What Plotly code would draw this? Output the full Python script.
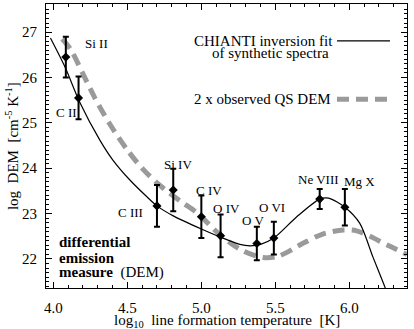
import plotly.graph_objects as go

# Ion line data points (log T, log DEM, error)
ions = ["Si II", "C II", "C III", "Si IV", "C IV", "O IV", "O V", "O VI", "Ne VIII", "Mg X"]
ion_logT = [4.084, 4.17, 4.70, 4.81, 5.00, 5.13, 5.375, 5.49, 5.80, 5.97]
ion_dem = [26.45, 25.55, 23.17, 23.52, 22.93, 22.51, 22.34, 22.46, 23.32, 23.14]
ion_err = [0.45, 0.47, 0.46, 0.47, 0.47, 0.47, 0.37, 0.36, 0.22, 0.40]
# label positions (log T, log DEM) for ion names
label_logT = [4.29, 4.09, 4.52, 4.84, 5.05, 5.17, 5.35, 5.48, 5.79, 6.07]
label_dem = [26.75, 25.23, 23.03, 24.08, 23.51, 23.11, 22.84, 23.14, 23.75, 23.71]

# CHIANTI inversion fit (solid curve)
fit_logT = [3.98, 4.08, 4.179, 4.314, 4.402, 4.517, 4.632, 4.70, 4.81, 5.0, 5.13, 5.26,
            5.33, 5.40, 5.49, 5.645, 5.80, 5.86, 5.97, 6.07, 6.16, 6.23, 6.25]
fit_dem = [26.87, 26.22, 25.45, 24.62, 24.18, 23.74, 23.37, 23.17, 22.95, 22.66, 22.48,
           22.32, 22.29, 22.32, 22.46, 22.93, 23.32, 23.34, 23.14, 22.79, 22.04, 21.47, 21.30]

# 2 x observed QS DEM (dashed grey curve)
qs_logT = [4.06, 4.12, 4.20, 4.28, 4.38, 4.50, 4.605, 4.72, 4.855, 4.97, 5.13, 5.28,
           5.42, 5.52, 5.69, 5.82, 5.96, 6.05, 6.14, 6.26, 6.39]
qs_dem = [26.85, 26.60, 26.08, 25.55, 24.98, 24.40, 23.98, 23.62, 23.28, 23.02, 22.52,
          22.18, 22.03, 22.06, 22.35, 22.55, 22.64, 22.62, 22.50, 22.30, 22.10]

FONT = "Liberation Serif"

fig = go.Figure()
fig.add_trace(go.Scatter(x=qs_logT, y=qs_dem, mode="lines", line_shape="spline",
                         line=dict(color="#9a9a9a", width=5, dash="12px,7px", smoothing=0.8),
                         showlegend=False))
fig.add_trace(go.Scatter(x=fit_logT, y=fit_dem, mode="lines", line_shape="spline",
                         line=dict(color="black", width=1.2, smoothing=0.8), showlegend=False))
fig.add_trace(go.Scatter(x=ion_logT, y=ion_dem, mode="markers",
                         marker=dict(symbol="diamond", size=7, color="black"),
                         error_y=dict(type="data", array=ion_err, color="black",
                                      thickness=2, width=3),
                         showlegend=False))

for name, lx, ly in zip(ions, label_logT, label_dem):
    fig.add_annotation(x=lx, y=ly, text=name, showarrow=False,
                       font=dict(family=FONT, size=13, color="black"))

# Legend (text on left, line sample on right)
fig.add_annotation(xref="paper", yref="paper", x=0.80, y=0.870, xanchor="right",
                   yanchor="middle", text="CHIANTI inversion fit", showarrow=False,
                   font=dict(family=FONT, size=15, color="black"))
fig.add_annotation(xref="paper", yref="paper", x=0.789, y=0.828, xanchor="right",
                   yanchor="middle", text="of synthetic spectra", showarrow=False,
                   font=dict(family=FONT, size=15, color="black"))
fig.add_annotation(xref="paper", yref="paper", x=0.795, y=0.665, xanchor="right",
                   yanchor="middle", text="2 x observed QS DEM", showarrow=False,
                   font=dict(family=FONT, size=15, color="black"))
fig.add_shape(type="line", xref="paper", yref="paper", x0=0.806, x1=0.953,
              y0=0.870, y1=0.870, line=dict(color="black", width=1.2))
fig.add_shape(type="line", xref="paper", yref="paper", x0=0.806, x1=0.953,
              y0=0.665, y1=0.665, line=dict(color="#9a9a9a", width=5, dash="12px,7px"))

# "differential emission measure (DEM)" note
for txt, yy in [("<b>differential</b>", 0.162), ("<b>emission</b>", 0.106),
                ("<b>measure</b>  (DEM)", 0.053)]:
    fig.add_annotation(xref="paper", yref="paper", x=0.03, y=yy, xanchor="left",
                       yanchor="middle", align="left", showarrow=False, text=txt,
                       font=dict(family=FONT, size=15, color="black"))

# Axis titles
fig.add_annotation(xref="paper", yref="paper", x=0.5, y=-0.116, xanchor="center",
                   yanchor="middle", showarrow=False,
                   text="log<sub>10</sub>  line formation temperature  [K]",
                   font=dict(family=FONT, size=15, color="black"))
fig.add_annotation(xref="paper", yref="paper", x=-0.094, y=0.5, xanchor="center",
                   yanchor="middle", showarrow=False, textangle=-90,
                   text="log  DEM  [cm<sup>-5</sup> K<sup>-1</sup>]",
                   font=dict(family=FONT, size=15, color="black"))

axis_common = dict(showline=True, linecolor="black", linewidth=1, mirror="allticks",
                   ticks="inside", ticklen=6, tickcolor="black", showgrid=False,
                   zeroline=False,
                   tickfont=dict(family=FONT, size=15, color="black"))

fig.update_xaxes(range=[3.95, 6.39], tickvals=[4.0, 4.5, 5.0, 5.5, 6.0],
                 ticktext=["4.0", "4.5", "5.0", "5.5", "6.0"], ticklabelstandoff=6,
                 minor=dict(ticks="inside", dtick=0.1, tick0=4.0, ticklen=3,
                            tickcolor="black", showgrid=False),
                 **axis_common)
fig.update_yaxes(range=[21.36, 27.62], tickvals=[22, 23, 24, 25, 26, 27],
                 ticklabelstandoff=5,
                 minor=dict(ticks="inside", dtick=0.1, tick0=22, ticklen=3,
                            tickcolor="black", showgrid=False),
                 **axis_common)

fig.update_layout(width=414, height=329, margin=dict(l=46, r=7, t=4, b=41),
                  plot_bgcolor="white", paper_bgcolor="white", showlegend=False,
                  font=dict(family=FONT))

fig.write_html("out.html", config={"displayModeBar": False},
               post_script="document.body.style.margin='0';document.body.style.padding='0';")
